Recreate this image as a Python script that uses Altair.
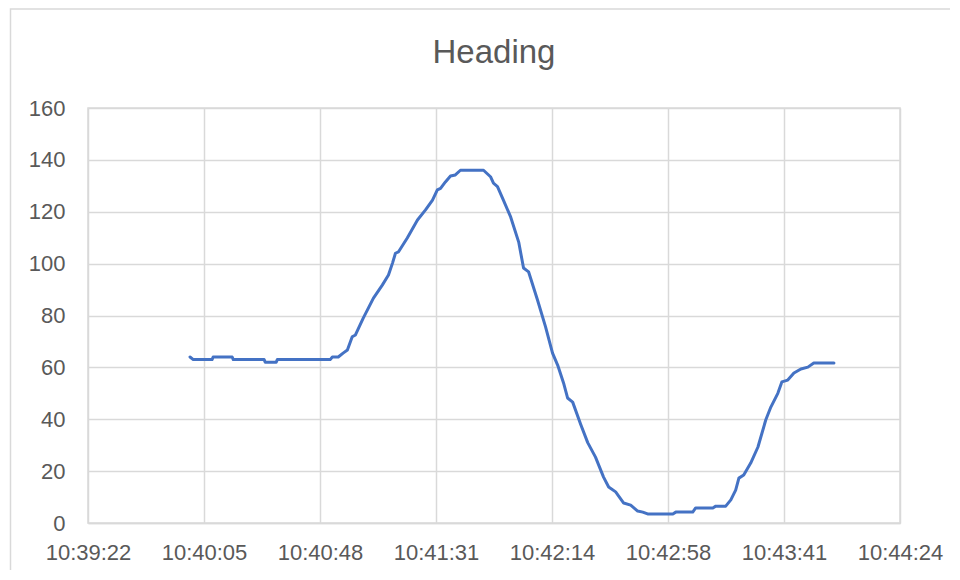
import json
import altair as alt
import pandas as pd

# seconds after 10:39:22
T = [38.0, 39.2, 46.2, 46.6, 53.7, 54.1, 65.6, 66.0, 70.1, 70.5, 90.2, 91.0, 93.2,
     95.0, 96.6, 98.4, 99.6, 102.5, 106.3, 109.6, 111.9, 113.4, 114.5, 115.6, 118.9,
     122.7, 125.7, 128.3, 130.1, 131.3, 133.1, 135.0, 136.8, 138.7, 147.3, 149.9,
     151.0, 152.5, 154.7, 157.4, 160.4, 162.2, 164.1, 167.4, 170.4, 173.0, 174.9,
     177.1, 178.6, 180.5, 183.5, 186.1, 189.0, 192.0, 193.9, 196.5, 199.5, 202.1,
     204.7, 206.6, 208.4, 217.8, 218.9, 225.2, 226.3, 232.7, 233.8, 237.5, 239.4,
     241.2, 242.4, 244.2, 246.8, 249.5, 252.4, 254.3, 256.9, 258.4, 260.6, 262.9,
     265.5, 268.1, 270.3, 277.8]
HEADING = [64, 63, 63, 64, 64, 63, 63, 62, 62, 63, 63, 64, 64,
           65.5, 66.7, 71.8, 72.5, 79, 86.7, 91.7, 95.6, 100.2, 104, 104.5, 109.9,
           116.8, 120.7, 124.5, 128.4, 129, 131.5, 133.8, 134.2, 136, 136, 133.5,
           131, 129.7, 124.5, 118, 108.3, 98.3, 96.8, 86, 75.6, 65.5, 60.9,
           54, 48.2, 46.6, 38, 31, 25.4, 17.7, 13.9, 12, 7.7, 6.9,
           4.6, 4.2, 3.5, 3.5, 4.2, 4.2, 5.8, 5.8, 6.5, 6.5, 8.9,
           12.7, 17.3, 18.5, 23.1, 29.3, 39.7, 44.7, 50, 54.4, 55.1, 57.8,
           59.4, 60.1, 61.7, 61.7]

TICK_STEP = 43.2
TICK_LABELS = ["10:39:22", "10:40:05", "10:40:48", "10:41:31",
               "10:42:14", "10:42:58", "10:43:41", "10:44:24"]
TICK_VALUES = [round(i * TICK_STEP, 1) for i in range(len(TICK_LABELS))]
Y_TICKS = [0, 20, 40, 60, 80, 100, 120, 140, 160]

df = pd.DataFrame({"t": T, "heading": HEADING})

GRID = "#d9d9d9"
TXT = "#595959"
FONT = "Liberation Sans"

label_expr = json.dumps(TICK_LABELS) + f"[round(datum.value / {TICK_STEP})]"

line = alt.Chart(df).mark_line(
    color="#4472C4", strokeWidth=3, strokeCap="round", strokeJoin="round"
).encode(
    x=alt.X("t:Q",
            scale=alt.Scale(domain=[0, TICK_VALUES[-1]], nice=False, zero=False),
            axis=alt.Axis(values=TICK_VALUES, labelExpr=label_expr, title=None,
                          grid=True, ticks=False, tickSize=0, labelPadding=19,
                          labelOverlap=False, labelFlush=False,
                          domainColor=GRID, domainWidth=1.5)),
    y=alt.Y("heading:Q",
            scale=alt.Scale(domain=[0, 160], nice=False),
            axis=alt.Axis(values=Y_TICKS, title=None, domain=False, ticks=False,
                          tickSize=0, labelPadding=23, labelOverlap=False)),
)

border = alt.Chart(pd.DataFrame({"k": [0]})).mark_rect(
    fillOpacity=0, stroke=GRID, strokeWidth=1.5
).encode(
    x=alt.value(-77.5), x2=alt.value(1000), y=alt.value(-99), y2=alt.value(700)
)

chart = alt.layer(border, line).properties(
    width=812, height=415,
    padding={"left": 80, "top": 100, "right": 50, "bottom": 47},
    autosize="none",
    title=alt.TitleParams("Heading", fontSize=33, color=TXT, font=FONT,
                          fontWeight="normal", offset=0, dy=88,
                          baseline="alphabetic", anchor="middle"),
).configure_view(
    stroke=GRID, strokeWidth=1.5
).configure_axis(
    gridColor=GRID, gridWidth=1.5, labelFont=FONT, labelFontSize=22, labelColor=TXT
)

chart.save("out.html", embed_options={"renderer": "svg", "actions": False})
